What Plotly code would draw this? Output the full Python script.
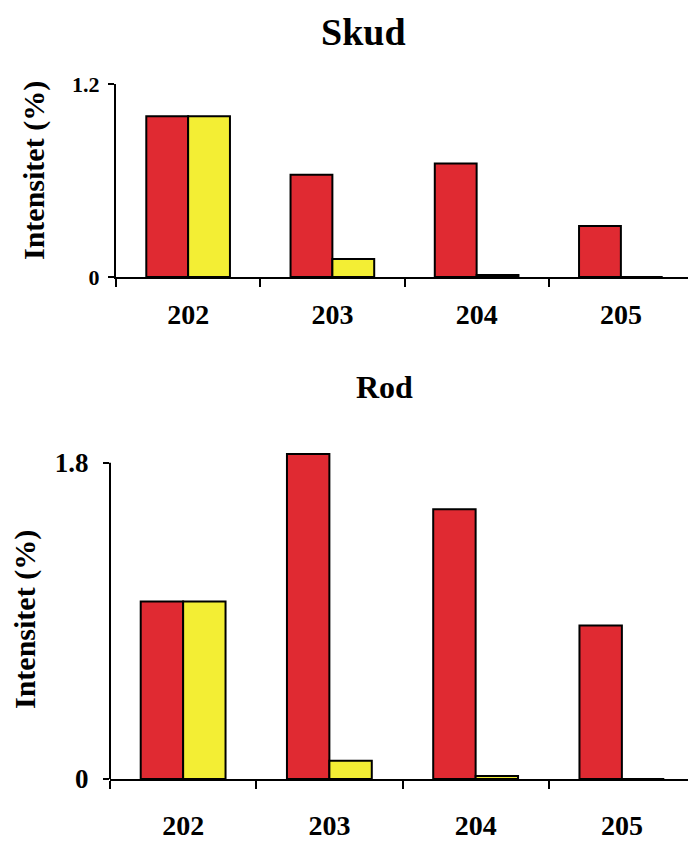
import plotly.graph_objects as go

categories = ["202", "203", "204", "205"]
skud_red = [1.0, 0.635, 0.705, 0.317]
skud_yellow = [1.0, 0.112, 0.012, 0.0]
rod_red = [1.01, 1.85, 1.535, 0.873]
rod_yellow = [1.01, 0.104, 0.017, 0.0]
skud_ticks = [0, 1.2]
rod_ticks = [0, 1.8]

RED = "#E02A32"
YEL = "#F3EE34"
FONT = "Liberation Serif"

fig = go.Figure()
line = dict(color="black", width=2)
fig.add_trace(go.Bar(x=categories, y=skud_red, marker=dict(color=RED, line=line), xaxis="x", yaxis="y"))
fig.add_trace(go.Bar(x=categories, y=skud_yellow, marker=dict(color=YEL, line=line), xaxis="x", yaxis="y"))
fig.add_trace(go.Bar(x=categories, y=rod_red, marker=dict(color=RED, line=line), xaxis="x2", yaxis="y2"))
fig.add_trace(go.Bar(x=categories, y=rod_yellow, marker=dict(color=YEL, line=line), xaxis="x2", yaxis="y2"))

# the page body has an 8px margin, so the figure is placed at (8, 8) in the window
OFF = 8
W, H = 696 - OFF, 843 - OFF
def px(x):
    return (x - OFF) / W
def py(y):
    return 1 - (y - OFF) / H
def dx(a, b):
    return [px(a), px(b)]
def dy(top, bot):
    return [py(bot), py(top)]

# bottom panel: 0 at y=779, 1.8 at y=462.7; extend plot area above for the tallest bar
rod_zero_px, rod_max_px, rod_top_px = 779, 462.7, 445
rod_range_top = rod_ticks[-1] * (rod_zero_px - rod_top_px) / (rod_zero_px - rod_max_px)

xcommon = dict(type="category", showline=True, linecolor="black", linewidth=2,
               ticks="outside", tickson="boundaries", ticklen=8, tickwidth=2, tickcolor="black",
               showgrid=False, zeroline=False, automargin=False,
               tickfont=dict(family=FONT, size=28, color="black", weight="bold"))
ycommon = dict(linecolor="black", linewidth=2, ticks="outside", ticklen=6,
               tickwidth=2, tickcolor="black", showgrid=False, zeroline=False, automargin=False)

fig.update_layout(
    width=W, height=H, margin=dict(l=0, r=0, t=0, b=0, autoexpand=False),
    paper_bgcolor="white", plot_bgcolor="white", showlegend=False,
    barmode="group", bargap=0.42, bargroupgap=0,
    xaxis=dict(domain=dx(116, 693), anchor="y", ticklabelstandoff=11, **xcommon),
    yaxis=dict(domain=dy(84, 277), anchor="x", range=[0, 1.2], tickvals=skud_ticks, showline=True,
               ticktext=[str(v) for v in skud_ticks], ticklabelstandoff=4,
               tickfont=dict(family=FONT, size=22, color="black", weight="bold"), **ycommon),
    xaxis2=dict(domain=dx(110, 695), anchor="y2", ticklabelstandoff=20, **xcommon),
    yaxis2=dict(domain=dy(rod_top_px, rod_zero_px), anchor="x2", range=[0, rod_range_top],
                tickvals=rod_ticks, showline=False,
                ticktext=[str(v) for v in rod_ticks], ticklabelstandoff=9,
                tickfont=dict(family=FONT, size=27, color="black", weight="bold"), **ycommon),
    shapes=[
        dict(type="line", xref="x2 domain", yref="y2", x0=0, x1=0, y0=rod_ticks[0], y1=rod_ticks[-1],
             line=dict(color="black", width=2), layer="above"),
    ],
    annotations=[
        dict(text="Skud", x=px(363), y=py(32), xref="paper", yref="paper", showarrow=False,
             xanchor="center", yanchor="middle",
             font=dict(family=FONT, size=38, color="black", weight="bold")),
        dict(text="Rod", x=px(384), y=py(387), xref="paper", yref="paper", showarrow=False,
             xanchor="center", yanchor="middle",
             font=dict(family=FONT, size=32, color="black", weight="bold")),
        dict(text="Intensitet (%)", x=px(34), y=py(171), xref="paper", yref="paper",
             showarrow=False, textangle=-90, xanchor="center", yanchor="middle",
             font=dict(family=FONT, size=30, color="black", weight="bold")),
        dict(text="Intensitet (%)", x=px(25), y=py(620), xref="paper", yref="paper",
             showarrow=False, textangle=-90, xanchor="center", yanchor="middle",
             font=dict(family=FONT, size=30, color="black", weight="bold")),
    ],
)

fig.write_html("out.html")
